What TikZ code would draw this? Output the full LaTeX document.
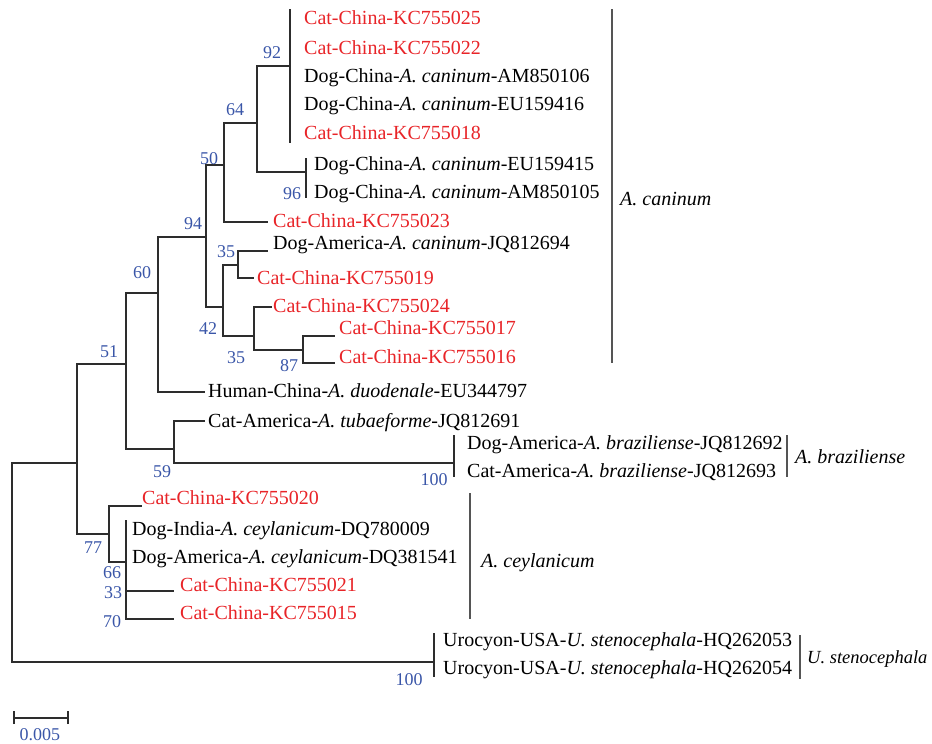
\documentclass[tikz,border=0pt]{standalone}
\usepackage{fontspec}
\setmainfont{Liberation Serif}
\definecolor{tred}{RGB}{232,36,40}
\definecolor{bsblue}{RGB}{58,86,168}
\definecolor{treeline}{RGB}{45,45,45}
\definecolor{cladeline}{RGB}{85,85,85}
\begin{document}
\begin{tikzpicture}[x=1pt,y=-1pt,
  leaf/.style={anchor=west,inner sep=0pt,text height=13pt,text depth=0pt,font=\fontsize{20}{24}\selectfont},
  catleaf/.style={leaf,text=tred},
  boot/.style={inner sep=0pt,text height=12pt,text depth=0pt,font=\fontsize{18}{22}\selectfont,text=bsblue},
  br/.style={draw=treeline,line width=1.2pt},
  clade/.style={draw=cladeline,line width=1.5pt},
  cladelabel/.style={leaf,font=\fontsize{20}{24}\selectfont\itshape}]
\useasboundingbox (0,0) rectangle (932,744);

% internal nodes (x of vertical line, y of incoming branch)
\coordinate (nR) at (12,562);
\coordinate (nA) at (77,463);
\coordinate (nB) at (126,364);
\coordinate (nC) at (109,534);
\coordinate (nD) at (158,293);
\coordinate (nE) at (174,449);
\coordinate (nF) at (206,237);
\coordinate (nG) at (224,165);
\coordinate (nH) at (223,307);
\coordinate (nI) at (257,123);
\coordinate (nJ) at (290,66);
\coordinate (nK) at (306,172);
\coordinate (nL) at (238,265);
\coordinate (nM) at (254,336);
\coordinate (nN) at (303,350);
\coordinate (nP) at (454,463);
\coordinate (nQ) at (126,562);
\coordinate (nU) at (434,662);
% polytomy ends
\coordinate (jT) at (290,9);   \coordinate (jB) at (290,143);
\coordinate (kT) at (306,158); \coordinate (kB) at (306,198);
\coordinate (pT) at (454,435); \coordinate (pB) at (454,477);
\coordinate (qT) at (126,520); \coordinate (qB) at (126,619);
\coordinate (uT) at (434,633); \coordinate (uB) at (434,677);
% leaf branch ends
\coordinate (eHum) at (205,392);
\coordinate (e23) at (268,222);
\coordinate (e94) at (268,251);
\coordinate (e19) at (254,278);
\coordinate (e24) at (272,307);
\coordinate (e17) at (335,336);
\coordinate (e16) at (335,363);
\coordinate (eTub) at (205,421);
\coordinate (e20) at (142,506);
\coordinate (e21) at (174,591);
\coordinate (e15) at (174,619);

% branches
\draw[br] (nA) -| (nR) |- (nU);
\draw[br] (nA) |- (nB);
\draw[br] (nA) |- (nC);
\draw[br] (nB) |- (nD);
\draw[br] (nB) |- (nE);
\draw[br] (nD) |- (nF);
\draw[br] (nD) |- (eHum);
\draw[br] (nF) |- (nG);
\draw[br] (nF) |- (nH);
\draw[br] (nG) |- (nI);
\draw[br] (nG) |- (e23);
\draw[br] (nI) |- (nJ);
\draw[br] (nI) |- (nK);
\draw[br] (jT) -- (jB);
\draw[br] (kT) -- (kB);
\draw[br] (nH) |- (nL);
\draw[br] (nH) |- (nM);
\draw[br] (nL) |- (e94);
\draw[br] (nL) |- (e19);
\draw[br] (nM) |- (e24);
\draw[br] (nM) |- (nN);
\draw[br] (nN) |- (e17);
\draw[br] (nN) |- (e16);
\draw[br] (nE) |- (eTub);
\draw[br] (nE) |- (nP);
\draw[br] (pT) -- (pB);
\draw[br] (nC) |- (e20);
\draw[br] (nC) |- (nQ);
\draw[br] (qT) -- (qB);
\draw[br] (nQ) |- (e21);
\draw[br] (nQ) |- (e15);
\draw[br] (uT) -- (uB);

% leaves
\node[catleaf] (t25) at (304,18) {Cat-China-KC755025};
\node[catleaf] (t22) at (304,48) {Cat-China-KC755022};
\node[leaf] (tAM6) at (304,76) {Dog-China-\textit{A. caninum}-AM850106};
\node[leaf] (tEU6) at (304,104) {Dog-China-\textit{A. caninum}-EU159416};
\node[catleaf] (t18) at (304,133) {Cat-China-KC755018};
\node[leaf] (tEU5) at (314,164) {Dog-China-\textit{A. caninum}-EU159415};
\node[leaf] (tAM5) at (314,192) {Dog-China-\textit{A. caninum}-AM850105};
\node[catleaf] (t23) at (273,221) {Cat-China-KC755023};
\node[leaf] (tJQ4) at (273,243) {Dog-America-\textit{A. caninum}-JQ812694};
\node[catleaf] (t19) at (257,278) {Cat-China-KC755019};
\node[catleaf] (t24) at (273,306) {Cat-China-KC755024};
\node[catleaf] (t17) at (339,328) {Cat-China-KC755017};
\node[catleaf] (t16) at (339,357) {Cat-China-KC755016};
\node[leaf] (tHum) at (208,391) {Human-China-\textit{A. duodenale}-EU344797};
\node[leaf] (tTub) at (208,421) {Cat-America-\textit{A. tubaeforme}-JQ812691};
\node[leaf] (tJQ2) at (467,443) {Dog-America-\textit{A. braziliense}-JQ812692};
\node[leaf] (tJQ3) at (467,471) {Cat-America-\textit{A. braziliense}-JQ812693};
\node[catleaf] (t20) at (142,498) {Cat-China-KC755020};
\node[leaf] (tDQ9) at (132,529) {Dog-India-\textit{A. ceylanicum}-DQ780009};
\node[leaf] (tDQ1) at (132,557) {Dog-America-\textit{A. ceylanicum}-DQ381541};
\node[catleaf] (t21) at (180,585) {Cat-China-KC755021};
\node[catleaf] (t15) at (180,613) {Cat-China-KC755015};
\node[leaf] (tHQ3) at (443,640) {Urocyon-USA-\textit{U. stenocephala}-HQ262053};
\node[leaf] (tHQ4) at (443,668) {Urocyon-USA-\textit{U. stenocephala}-HQ262054};

% bootstrap values
\node[boot] (b92) at (272,52) {92};
\node[boot] (b64) at (235,109) {64};
\node[boot] (b50) at (209,158) {50};
\node[boot] (b96) at (292,193) {96};
\node[boot] (b94) at (193,223) {94};
\node[boot] (b35a) at (226,251) {35};
\node[boot] (b60) at (142,272) {60};
\node[boot] (b42) at (208,328) {42};
\node[boot] (b51) at (109,351) {51};
\node[boot] (b35b) at (236,357) {35};
\node[boot] (b87) at (289,365) {87};
\node[boot] (b59) at (162,471) {59};
\node[boot] (b100a) at (434,479) {100};
\node[boot] (b77) at (93,547) {77};
\node[boot] (b66) at (112,572) {66};
\node[boot] (b33) at (113,592) {33};
\node[boot] (b70) at (112,621) {70};
\node[boot] (b100b) at (409,679) {100};

% clade brackets
\coordinate (cA1) at (612,9);   \coordinate (cA2) at (612,363);
\coordinate (cB1) at (787,435); \coordinate (cB2) at (787,477);
\coordinate (cC1) at (470,493); \coordinate (cC2) at (470,619);
\coordinate (cD1) at (800,635); \coordinate (cD2) at (800,679);
\draw[clade] (cA1) -- (cA2);
\draw[clade] (cB1) -- (cB2);
\draw[clade] (cC1) -- (cC2);
\draw[clade] (cD1) -- (cD2);
\node[cladelabel] (lA) at (620,199) {A. caninum};
\node[cladelabel] (lB) at (795,457) {A. braziliense};
\node[cladelabel] (lC) at (481,561) {A. ceylanicum};
\node[cladelabel,font=\fontsize{18.5}{22}\selectfont\itshape] (lD) at (807,657) {U. stenocephala};

% scale bar
\coordinate (s1) at (14,718); \coordinate (s2) at (68,718);
\draw[br] (s1) -- (s2);
\draw[br] ([yshift=-6pt]s1) -- ([yshift=7pt]s1);
\draw[br] ([yshift=-6pt]s2) -- ([yshift=7pt]s2);
\node[boot] (sl) at (40,734) {0.005};
\end{tikzpicture}
\end{document}
